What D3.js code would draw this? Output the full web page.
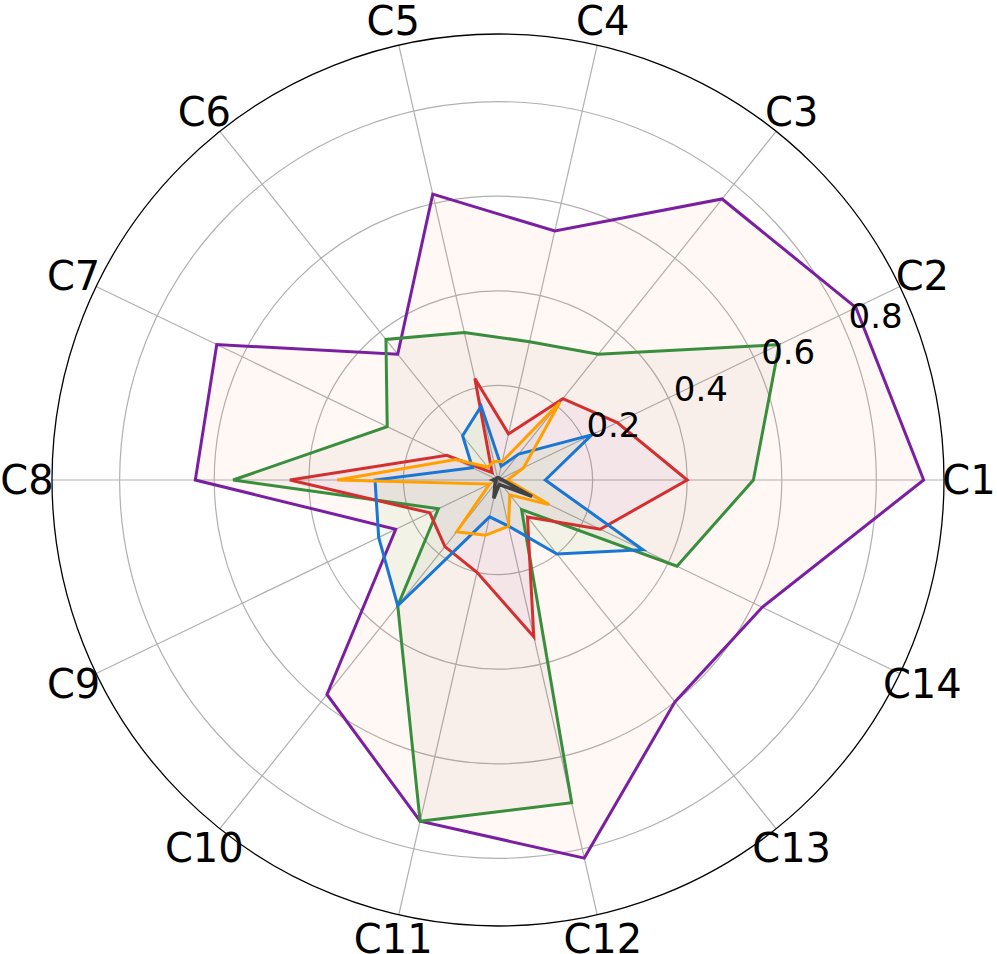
<!DOCTYPE html>
<html>
<head>
<meta charset="utf-8">
<script src="https://cdn.jsdelivr.net/npm/d3@7/dist/d3.min.js"></script>
<style>
	body { margin: 0; background: #fff; }
	text { font-family: "DejaVu Sans", sans-serif; }
</style>
</head>
<body>
<div id="radar"></div>
<script>
var categories = ["C1", "C2", "C3", "C4", "C5", "C6", "C7", "C8", "C9", "C10", "C11", "C12", "C13", "C14"];
var radialTicks = [0.2, 0.4, 0.6, 0.8];

// one array per series, C1..C14
var purpleValues = [0.90, 0.84, 0.76, 0.54, 0.62, 0.34, 0.66, 0.64, 0.24, 0.58, 0.74, 0.82, 0.60, 0.62];
var greenValues  = [0.54, 0.66, 0.34, 0.30, 0.32, 0.38, 0.26, 0.56, 0.14, 0.34, 0.74, 0.70, 0.08, 0.42];
var redValues    = [0.40, 0.28, 0.22, 0.10, 0.22, 0.02, 0.12, 0.44, 0.16, 0.18, 0.20, 0.34, 0.10, 0.24];
var blueValues   = [0.10, 0.22, 0.07, 0.03, 0.16, 0.12, 0.06, 0.26, 0.28, 0.34, 0.08, 0.10, 0.20, 0.34];
var orangeValues = [0.02, 0.06, 0.21, 0.04, 0.04, 0.035, 0.10, 0.34, 0.02, 0.14, 0.12, 0.10, 0.04, 0.12];
var grayValues   = [0.01, 0.005, 0.005, 0.005, 0.005, 0.005, 0.005, 0.01, 0.005, 0.01, 0.04, 0.01, 0.015, 0.08];

var series = [
	{ values: purpleValues, line: "#7b1fa2", fill: "#ff8f40", alpha: 0.06,  width: 3 },
	{ values: greenValues,  line: "#388e3c", fill: "#795548", alpha: 0.05,  width: 3 },
	{ values: redValues,    line: "#d32f2f", fill: "#9c27b0", alpha: 0.045, width: 3 },
	{ values: blueValues,   line: "#1976d2", fill: "#4caf50", alpha: 0.075, width: 3 },
	{ values: orangeValues, line: "#ffa000", fill: "#9e9e9e", alpha: 0.1,   width: 3 },
	{ values: grayValues,   line: "#424242", fill: "#424242", alpha: 0.15,  width: 3.5 }
];

var layout = {
	w: 997,
	h: 954,
	cx: 498,
	cy: 480,
	R: 446
}

var svg = d3.select("#radar")
			.append("svg")
			.attr("width", layout.w)
			.attr("height", layout.h);

var rScale = d3.scaleLinear().domain([0, 0.943]).range([0, layout.R]);
var angle = d3.scaleLinear().domain([0, categories.length]).range([0, 2 * Math.PI]);

function px(i, r){ return layout.cx + r * Math.cos(angle(i)); }
function py(i, r){ return layout.cy - r * Math.sin(angle(i)); }

var g = svg.append("g");

// grid circles
g.selectAll("circle.grid")
	.data(radialTicks)
	.enter().append("circle")
	.attr("class", "grid")
	.attr("cx", layout.cx)
	.attr("cy", layout.cy)
	.attr("r", function(d){ return rScale(d); })
	.style("fill", "none")
	.style("stroke", "#b0b0b0")
	.style("stroke-width", 1.2);

// spokes
g.selectAll("line.spoke")
	.data(categories)
	.enter().append("line")
	.attr("class", "spoke")
	.attr("x1", layout.cx)
	.attr("y1", layout.cy)
	.attr("x2", function(d, i){ return px(i, layout.R); })
	.attr("y2", function(d, i){ return py(i, layout.R); })
	.style("stroke", "#b0b0b0")
	.style("stroke-width", 1.2);

// series polygons
var radarLine = d3.lineRadial()
				.angle(function(d, i){ return Math.PI / 2 - angle(i); })
				.radius(function(d){ return rScale(d); })
				.curve(d3.curveLinearClosed);

var polys = g.append("g")
			.attr("transform", "translate(" + layout.cx + "," + layout.cy + ")");

polys.selectAll("path.fill")
	.data(series)
	.enter().append("path")
	.attr("class", "fill")
	.attr("d", function(d){ return radarLine(d.values); })
	.style("fill", function(d){ return d.fill; })
	.style("fill-opacity", function(d){ return d.alpha; })
	.style("stroke", "none");

polys.selectAll("path.line")
	.data(series)
	.enter().append("path")
	.attr("class", "line")
	.attr("d", function(d){ return radarLine(d.values); })
	.style("fill", "none")
	.style("stroke", function(d){ return d.line; })
	.style("stroke-width", function(d){ return d.width; })
	.style("stroke-linejoin", "miter");

// outer circle
g.append("circle")
	.attr("cx", layout.cx)
	.attr("cy", layout.cy)
	.attr("r", layout.R)
	.style("fill", "none")
	.style("stroke", "#000")
	.style("stroke-width", 1.3);

// radial tick labels at 22.5 deg
var labelAngle = 22.5 * Math.PI / 180;
g.selectAll("text.rtick")
	.data(radialTicks)
	.enter().append("text")
	.attr("class", "rtick")
	.attr("x", function(d){ return layout.cx + rScale(d) * Math.cos(labelAngle) + 1; })
	.attr("y", function(d){ return layout.cy - rScale(d) * Math.sin(labelAngle) - 7; })
	.style("font-size", "34px")
	.style("fill", "#000")
	.text(function(d){ return d.toFixed(1); });

// category labels
g.selectAll("text.cat")
	.data(categories)
	.enter().append("text")
	.attr("class", "cat")
	.attr("x", function(d, i){ return px(i, 471); })
	.attr("y", function(d, i){ return py(i, 471); })
	.attr("text-anchor", "middle")
	.attr("dominant-baseline", "central")
	.style("font-size", "40px")
	.style("fill", "#000")
	.text(function(d){ return d; });
</script>
</body>
</html>
